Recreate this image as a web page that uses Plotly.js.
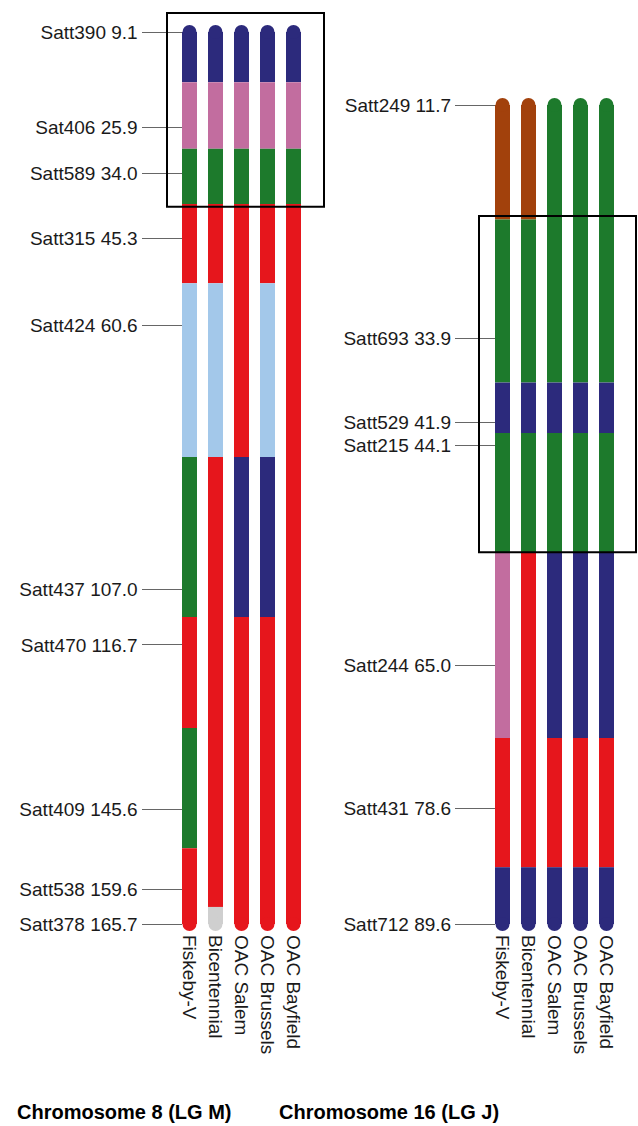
<!DOCTYPE html>
<html>
<head>
<meta charset="utf-8">
<script src="https://cdn.plot.ly/plotly-3.0.1.min.js"></script>
<style>html,body{margin:0;padding:0;background:#fff;}#chart{width:638px;height:1126px;}</style>
</head>
<body>
<div id="chart"></div>
<script>
// ---------- DATA ----------
const varieties = ['Fiskeby-V', 'Bicentennial', 'OAC Salem', 'OAC Brussels', 'OAC Bayfield'];

// Chromosome 8 (LG M): markers and positions (cM)
const chr8Markers = ['Satt390', 'Sat406', 'Satt589', 'Satt315', 'Satt424', 'Satt437', 'Satt470', 'Satt409', 'Satt538', 'Satt378'];
const chr8Pos = [9.1, 25.9, 34.0, 45.3, 60.6, 107.0, 116.7, 145.6, 159.6, 165.7];

// Chromosome 8 haplotype segments per variety: breakpoints (cM) and haplotype class of each segment
const chr8FiskebyBounds = [9.1, 17.9, 29.6, 39.3, 53.2, 83.7, 111.8, 131.3, 152.4, 165.7];
const chr8FiskebyHap = ['B', 'D', 'C', 'A', 'E', 'C', 'A', 'C', 'A'];
const chr8BicentBounds = [9.1, 17.9, 29.6, 39.3, 53.2, 83.7, 162.7, 165.7];
const chr8BicentHap = ['B', 'D', 'C', 'A', 'E', 'A', '-'];
const chr8SalemBounds = [9.1, 17.9, 29.6, 39.3, 83.7, 111.8, 165.7];
const chr8SalemHap = ['B', 'D', 'C', 'A', 'B', 'A'];
const chr8BrusselsBounds = [9.1, 17.9, 29.6, 39.3, 53.2, 83.7, 111.8, 165.7];
const chr8BrusselsHap = ['B', 'D', 'C', 'A', 'E', 'B', 'A'];
const chr8BayfieldBounds = [9.1, 17.9, 29.6, 39.3, 165.7];
const chr8BayfieldHap = ['B', 'D', 'C', 'A'];

// Chromosome 16 (LG J)
const chr16Markers = ['Satt249', 'Satt693', 'Satt529', 'Satt215', 'Satt244', 'Satt431', 'Satt712'];
const chr16Pos = [11.7, 33.9, 41.9, 44.1, 65.0, 78.6, 89.6];

const chr16FiskebyBounds = [11.7, 22.6, 38.1, 42.9, 54.3, 71.9, 84.2, 89.6];
const chr16FiskebyHap = ['F', 'C', 'B', 'C', 'D', 'A', 'B'];
const chr16BicentBounds = [11.7, 22.6, 38.1, 42.9, 54.3, 84.2, 89.6];
const chr16BicentHap = ['F', 'C', 'B', 'C', 'A', 'B'];
const chr16SalemBounds = [11.7, 38.1, 42.9, 54.3, 71.9, 84.2, 89.6];
const chr16SalemHap = ['C', 'B', 'C', 'B', 'A', 'B'];
const chr16BrusselsBounds = [11.7, 38.1, 42.9, 54.3, 71.9, 84.2, 89.6];
const chr16BrusselsHap = ['C', 'B', 'C', 'B', 'A', 'B'];
const chr16BayfieldBounds = [11.7, 38.1, 42.9, 54.3, 71.9, 84.2, 89.6];
const chr16BayfieldHap = ['C', 'B', 'C', 'B', 'A', 'B'];

const chromTitles = ['Chromosome 8 (LG M)', 'Chromosome 16 (LG J)'];

// ---------- STYLE ----------
const hapColors = {
  'A': '#E6161C',   // red
  'B': '#2C2A7C',   // navy
  'C': '#1D7A2C',   // green
  'D': '#C26D9F',   // pink
  'E': '#A3C8EA',   // light blue
  'F': '#A2410C',   // brown
  '-': '#CFCFCF'    // missing
};
const FONT = 'Liberation Sans, Arial, sans-serif';
const BARW = 15 / 26;

function buildTraces(boundsList, hapList, xa, ya) {
  const bx = [], bbase = [], blen = [], bcol = [];
  const capX = [], capY = [], capC = [];
  boundsList.forEach((b, i) => {
    const h = hapList[i];
    for (let s = 0; s < h.length; s++) {
      bx.push(varieties[i]);
      bbase.push(b[s]);
      blen.push(b[s + 1] - b[s]);
      bcol.push(hapColors[h[s]]);
    }
    capX.push(varieties[i]); capY.push(b[0]); capC.push(hapColors[h[0]]);
    capX.push(varieties[i]); capY.push(b[b.length - 1]); capC.push(hapColors[h[h.length - 1]]);
  });
  return [
    {
      type: 'scatter', mode: 'markers', x: capX, y: capY, xaxis: xa, yaxis: ya,
      marker: {size: 14, color: capC, line: {width: 0}}, cliponaxis: false,
      hoverinfo: 'skip', showlegend: false
    },
    {
      type: 'bar', x: bx, base: bbase, y: blen, xaxis: xa, yaxis: ya,
      width: BARW, marker: {color: bcol, line: {width: 0}},
      hoverinfo: 'skip', showlegend: false
    }
  ];
}

const traces = [].concat(
  buildTraces([chr8FiskebyBounds, chr8BicentBounds, chr8SalemBounds, chr8BrusselsBounds, chr8BayfieldBounds],
              [chr8FiskebyHap, chr8BicentHap, chr8SalemHap, chr8BrusselsHap, chr8BayfieldHap], 'x', 'y'),
  buildTraces([chr16FiskebyBounds, chr16BicentBounds, chr16SalemBounds, chr16BrusselsBounds, chr16BayfieldBounds],
              [chr16FiskebyHap, chr16BicentHap, chr16SalemHap, chr16BrusselsHap, chr16BayfieldHap], 'x2', 'y2')
);

const W = 638, H = 1126;
const yDomain = [(H - 930) / H, 1];

function xAxis(domainPx, range) {
  return {
    domain: [domainPx[0] / W, domainPx[1] / W],
    type: 'category', categoryorder: 'array', categoryarray: varieties,
    range: range, showgrid: false, zeroline: false, showline: false, ticks: '',
    tickangle: 90, ticklabelstandoff: 4, tickfont: {family: FONT, size: 19, color: '#1a1a1a'},
    automargin: false, fixedrange: true
  };
}
function yAxis(pos, range, vals, names) {
  return {
    domain: yDomain, anchor: 'free', position: pos, range: range,
    tickmode: 'array', tickvals: vals,
    ticktext: vals.map((v, i) => names[i] + ' ' + v.toFixed(1)),
    ticks: 'outside', ticklen: 40, tickwidth: 1, tickcolor: '#666',
    showgrid: false, zeroline: false, showline: false,
    tickfont: {family: FONT, size: 19, color: '#1a1a1a'},
    automargin: false, fixedrange: true
  };
}

const layout = {
  width: W, height: H,
  margin: {l: 0, r: 0, t: 0, b: 0, pad: 0},
  paper_bgcolor: '#fff', plot_bgcolor: 'rgba(0,0,0,0)',
  barmode: 'overlay', showlegend: false,
  xaxis: Object.assign(xAxis([160, 330], [(160 - 189.5) / 26, (330 - 189.5) / 26]), {anchor: 'y'}),
  xaxis2: Object.assign(xAxis([470, 638], [(470 - 502.5) / 26, (638 - 502.5) / 26]), {anchor: 'y2'}),
  yaxis: yAxis(181.5 / W, [166.753, 3.482], chr8Pos, chr8Markers),
  yaxis2: yAxis(495 / W, [90.171, 1.713], chr16Pos, chr16Markers),
  shapes: [
    {type: 'rect', xref: 'x', yref: 'y', x0: (167 - 189.5) / 26, x1: (324 - 189.5) / 26, y0: 5.76, y1: 39.8,
     line: {color: '#000', width: 2}, fillcolor: 'rgba(0,0,0,0)'},
    {type: 'rect', xref: 'x2', yref: 'y2', x0: (479 - 502.5) / 26, x1: (636 - 502.5) / 26, y0: 22.26, y1: 54.23,
     line: {color: '#000', width: 2}, fillcolor: 'rgba(0,0,0,0)'}
  ],
  annotations: [
    {text: '<b>' + chromTitles[0] + '</b>', xref: 'paper', yref: 'paper', x: 124 / W, y: (H - 1112) / H,
     xanchor: 'center', yanchor: 'middle', showarrow: false, font: {family: FONT, size: 20, color: '#000'}},
    {text: '<b>' + chromTitles[1] + '</b>', xref: 'paper', yref: 'paper', x: 389 / W, y: (H - 1112) / H,
     xanchor: 'center', yanchor: 'middle', showarrow: false, font: {family: FONT, size: 20, color: '#000'}}
  ]
};

Plotly.newPlot('chart', traces, layout, {staticPlot: true, displayModeBar: false});
</script>
</body>
</html>
